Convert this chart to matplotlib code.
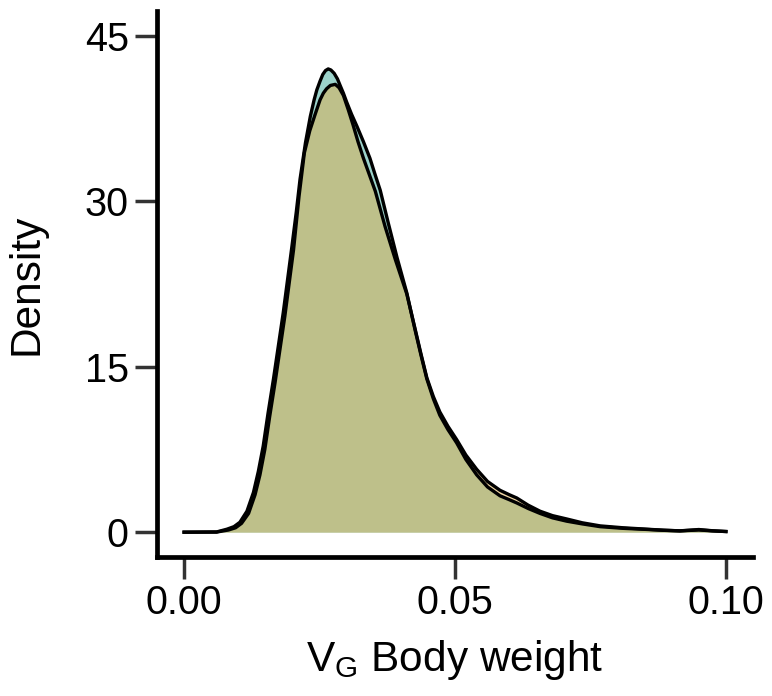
import matplotlib
matplotlib.use("Agg")
import matplotlib.pyplot as plt

# density curves (x = V_G body weight, y = density)
teal_x = [0.000, 0.006, 0.0079, 0.0092, 0.0103, 0.0116, 0.0128, 0.0137, 0.0146,
          0.0155, 0.0165, 0.0174, 0.0183, 0.0191, 0.0199, 0.0207, 0.0214, 0.0224,
          0.0233, 0.0240, 0.0245, 0.0251, 0.0256, 0.0261, 0.0266, 0.0271, 0.0277,
          0.0283, 0.0288, 0.0294, 0.0300, 0.0309, 0.0319, 0.0331, 0.0343, 0.0352,
          0.0362, 0.0377, 0.0393, 0.0411, 0.0426, 0.0437, 0.0448, 0.0460, 0.0472,
          0.0487, 0.0503, 0.0520, 0.0540, 0.0560, 0.0583, 0.0600, 0.0614, 0.0635,
          0.0657, 0.0680, 0.0706, 0.0735, 0.0768, 0.0810, 0.0854, 0.0885, 0.0915,
          0.0950, 0.0975, 0.1000]
teal_y = [0.0, 0.02, 0.27, 0.5, 0.9, 1.9, 3.6, 5.5, 7.8,
          10.8, 13.9, 16.9, 19.9, 22.9, 25.9, 29.0, 32.0, 35.3,
          37.7, 39.2, 40.1, 40.9, 41.5, 41.85, 42.0, 41.9, 41.6,
          41.1, 40.5, 39.8, 39.0, 37.9, 36.8, 35.4, 33.9, 32.5,
          31.0, 28.0, 24.9, 21.7, 18.4, 16.1, 13.9, 12.1, 10.6,
          9.3, 8.1, 6.6, 5.2, 4.1, 3.3, 2.95, 2.65, 2.15,
          1.7, 1.3, 1.0, 0.75, 0.5, 0.35, 0.25, 0.17, 0.12,
          0.2, 0.12, 0.06]

tan_x = [0.000, 0.006, 0.0082, 0.0095, 0.0106, 0.0119, 0.0131, 0.0140, 0.0149,
         0.0158, 0.0168, 0.0177, 0.0186, 0.0194, 0.0202, 0.0212, 0.0222, 0.0232,
         0.0242, 0.0251, 0.0257, 0.0263, 0.0270, 0.0279, 0.0286, 0.0294, 0.0303,
         0.0312, 0.0321, 0.0331, 0.0342, 0.0353, 0.0362, 0.0371, 0.0390, 0.0411,
         0.0426, 0.0437, 0.0448, 0.0460, 0.0472, 0.0487, 0.0503, 0.0520, 0.0540,
         0.0560, 0.0583, 0.0600, 0.0614, 0.0635, 0.0657, 0.0680, 0.0706, 0.0735,
         0.0768, 0.0810, 0.0854, 0.0885, 0.0915, 0.0950, 0.0975, 0.1000]
tan_y = [0.0, 0.01, 0.2, 0.4, 0.8, 1.7, 3.4, 5.2, 7.5,
         10.5, 13.6, 16.6, 19.6, 22.6, 25.6, 30.4, 34.4, 36.4,
         37.9, 39.2, 39.8, 40.2, 40.5, 40.6, 40.3, 39.6, 38.3,
         36.9, 35.4, 33.9, 32.4, 30.9, 29.3, 27.7, 24.7, 21.6,
         18.5, 16.2, 14.0, 12.3, 10.9, 9.6, 8.4, 7.0, 5.7,
         4.6, 3.8, 3.4, 3.1, 2.45, 1.9, 1.5, 1.2, 0.85,
         0.57, 0.4, 0.27, 0.18, 0.12, 0.24, 0.13, 0.06]

x_ticks = [0.00, 0.05, 0.10]
x_ticklabels = ["0.00", "0.05", "0.10"]
y_ticks = [0, 15, 30, 45]

plt.rcParams['font.family'] = ['Liberation Sans', 'DejaVu Sans']
plt.rcParams['mathtext.fontset'] = 'custom'
plt.rcParams['mathtext.rm'] = 'Liberation Sans'
plt.rcParams['mathtext.it'] = 'Liberation Sans'

fig = plt.figure(figsize=(7.72, 6.96), dpi=100)
ax = fig.add_axes([157 / 772, 1 - 557 / 696, 596 / 772, 546 / 696])

ax.fill_between(teal_x, teal_y, 0, color='#3BA999', alpha=0.5, linewidth=0)
ax.plot(teal_x, teal_y, color='black', lw=2.4, solid_joinstyle='round')
ax.fill_between(tan_x, tan_y, 0, color='#E1AF4B', alpha=0.5, linewidth=0)
ax.plot(tan_x, tan_y, color='black', lw=2.4, solid_joinstyle='round')

ax.set_xlim(-0.005, 0.105)
ax.set_ylim(-2.25, 47.25)
ax.set_xticks(x_ticks)
ax.set_xticklabels(x_ticklabels)
ax.set_yticks(y_ticks)

for side in ['top', 'right']:
    ax.spines[side].set_visible(False)
for side in ['left', 'bottom']:
    ax.spines[side].set_linewidth(3.4)
    ax.spines[side].set_color('black')
    ax.spines[side].set_capstyle('projecting')

ax.tick_params(direction='out', length=16, width=2.5, color='#333333',
               labelsize=28.5, labelcolor='black')
ax.tick_params(axis='x', pad=3.5)
ax.tick_params(axis='y', pad=4.3)

ax.set_ylabel('Density', fontsize=30.5)
ax.set_xlabel(r'V$_\mathregular{G}$ Body weight', fontsize=30.5)
ax.yaxis.set_label_coords(-0.185, 0.5)
ax.xaxis.set_label_coords(0.5, -0.148)

fig.savefig('out.png', dpi=100)
